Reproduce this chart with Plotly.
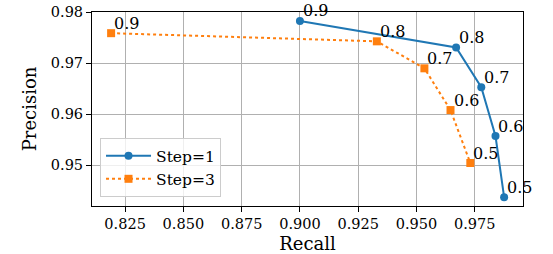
import plotly.graph_objects as go

recall_s1 = [0.900, 0.967, 0.9778, 0.9839, 0.9876]
precision_s1 = [0.9783, 0.9731, 0.9653, 0.9557, 0.9437]
recall_s3 = [0.819, 0.933, 0.9534, 0.9646, 0.9731]
precision_s3 = [0.9759, 0.9743, 0.9690, 0.9608, 0.9504]
thresholds = ["0.9", "0.8", "0.7", "0.6", "0.5"]
xticks = [0.825, 0.850, 0.875, 0.900, 0.925, 0.950, 0.975]
yticks = [0.95, 0.96, 0.97, 0.98]

FONT = "'DejaVu Serif', 'Liberation Serif', serif"
fig = go.Figure()
fig.add_trace(go.Scatter(x=recall_s1, y=precision_s1, mode="lines+markers", name="Step=1",
                         legendgroup="a",
                         line=dict(color="#1f77b4", width=2),
                         marker=dict(symbol="circle", size=8, color="#1f77b4")))
fig.add_trace(go.Scatter(x=recall_s3, y=precision_s3, mode="lines+markers", name="Step=3",
                         legendgroup="b",
                         line=dict(color="#ff7f0e", width=2, dash="dot"),
                         marker=dict(symbol="square", size=8, color="#ff7f0e")))

anns = []
for xs, ys in [(recall_s1, precision_s1), (recall_s3, precision_s3)]:
    for x, y, t in zip(xs, ys, thresholds):
        anns.append(dict(x=x, y=y, text=t, showarrow=False, xanchor="left", yanchor="middle",
                         xshift=1, yshift=10, font=dict(family=FONT, size=16, color="black")))

axis_common = dict(showline=True, linecolor="black", linewidth=1, mirror=True,
                   ticks="outside", ticklen=5, tickcolor="black", tickwidth=1,
                   showgrid=True, gridcolor="#b0b0b0", gridwidth=1, zeroline=False,
                   automargin=False,
                   tickfont=dict(family=FONT, size=14.5, color="black"))

fig.update_layout(
    width=553, height=254,
    margin=dict(l=92, r=30, t=12, b=48),
    plot_bgcolor="white", paper_bgcolor="white",
    font=dict(family=FONT),
    annotations=anns,
    xaxis=dict(range=[0.8108, 0.9957], tickvals=xticks, tickformat=".3f",
               title=dict(text="Recall", font=dict(family=FONT, size=18, color="black"), standoff=7),
               **axis_common),
    yaxis=dict(range=[0.94196, 0.98006], tickvals=yticks, tickformat=".2f",
               title=dict(text="Precision", font=dict(family=FONT, size=18, color="black"), standoff=9),
               **axis_common),
    legend=dict(x=0.0186, y=0.046, xanchor="left", yanchor="bottom",
                traceorder="grouped", tracegroupgap=0, itemwidth=45,
                bgcolor="rgba(255,255,255,0.8)", bordercolor="#cccccc", borderwidth=1,
                font=dict(family=FONT, size=15.5, color="black")),
)
fig.write_html("out.html", config={"displayModeBar": False},
               post_script="document.body.style.margin='0px';")
